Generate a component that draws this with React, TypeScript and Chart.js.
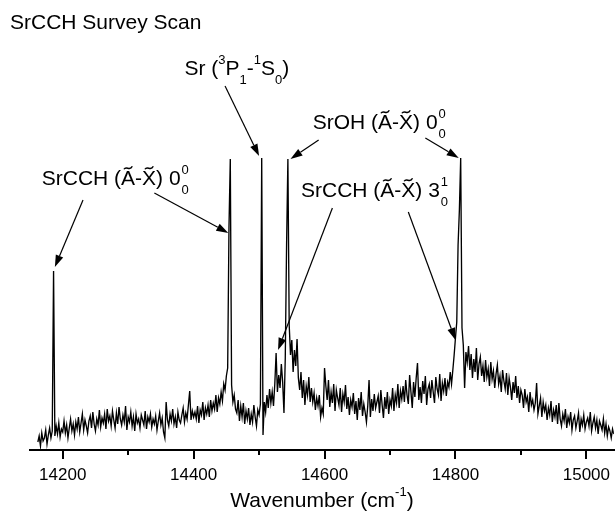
import React, { useEffect, useRef } from "react";
import { Chart, registerables } from "chart.js";

Chart.register(...registerables);

// ---- data ----
const scanStart = 14162; // cm-1, first sample
const scanStep = 2; // cm-1 between samples
const intensity = [
  8, 14, 4, 17, 9, 12, 20, 6, 15, 22,
  12, 19, 179, 14, 24, 16, 27, 13, 21, 18,
  29, 17, 25, 12, 22, 31, 19, 26, 15, 28,
  21, 33, 18, 27, 36, 20, 30, 24, 17, 29,
  34, 22, 38, 26, 19, 31, 25, 40, 23, 32,
  27, 36, 21, 41, 29, 34, 24, 39, 30, 22,
  37, 26, 43, 31, 25, 35, 28, 44, 20, 33,
  28, 38, 24, 33, 19, 36, 27, 31, 22, 35,
  30, 25, 39, 21, 33, 28, 36, 23, 31, 26,
  34, 20, 29, 37, 25, 32, 18, 12, 48, 30,
  24, 36, 29, 41, 26, 33, 22, 38, 30, 27,
  35, 42, 28, 37, 31, 45, 59, 30, 39, 33,
  38, 31, 44, 27, 40, 35, 48, 30, 42, 36,
  45, 33, 50, 39, 47, 41, 55, 38, 52, 46,
  58, 49, 66, 60, 74, 82, 223, 291, 65, 48,
  55, 41, 37, 50, 29, 44, 33, 47, 26, 39,
  31, 42, 25, 36, 28, 45, 33, 24, 40, 35,
  46, 292, 15, 48, 38, 55, 42, 61, 47, 58,
  44, 66, 97, 58, 75, 62, 86, 68, 37, 92,
  205, 291, 125, 95, 110, 78, 100, 84, 111, 72,
  60, 78, 52, 70, 45, 64, 55, 73, 48, 62,
  48, 57, 40, 52, 44, 55, 33, 42, 36, 82,
  64, 50, 70, 43, 58, 47, 66, 39, 60, 52,
  45, 62, 38, 56, 48, 65, 41, 53, 35, 50,
  43, 57, 36, 49, 30, 52, 40, 58, 34, 46,
  38, 28, 44, 70, 33, 51, 39, 56, 42, 48,
  54, 37, 60, 45, 32, 53, 41, 58, 36, 50,
  44, 62, 39, 55, 47, 66, 42, 59, 51, 64,
  48, 70, 55, 46, 75, 58, 42, 68, 53, 72,
  87, 50, 63, 47, 69, 56, 74, 45, 61, 66,
  52, 70, 58, 47, 73, 61, 55, 76, 49, 67,
  59, 72, 54, 68, 63, 78, 66, 80, 95, 112,
  128, 205, 240, 292, 122, 105, 62, 98, 88, 104,
  80, 96, 72, 91, 78, 102, 70, 86, 93, 74,
  84, 68, 90, 73, 81, 64, 88, 71, 79, 62,
  76, 85, 66, 74, 58, 80, 69, 61, 77, 55,
  72, 63, 50, 68, 57, 74, 52, 64, 47, 60,
  55, 42, 61, 48, 53, 38, 58, 45, 50, 40,
  47, 67, 36, 44, 52, 33, 48, 39, 45, 30,
  42, 35, 49, 28, 40, 33, 45, 26, 47, 31,
  24, 36, 29, 41, 22, 33, 27, 38, 20, 30,
  34, 22, 29, 37, 18, 31, 25, 35, 21, 28,
  32, 24, 38, 19, 27, 33, 22, 30, 16, 29,
  25, 20, 31, 17, 26, 14, 23, 19, 12, 21, 16,
];

const majorTicks = [14200, 14400, 14600, 14800, 15000];
const minorTicks = [14300, 14500, 14700, 14900];
const xMin = 14150;
const xMax = 15042;
const yMin = 0;
const yMax = 420;

const chartTitle = "SrCCH Survey Scan";

type Seg = { k: "n" | "sup" | "sub" | "ss" | "tilde"; t?: string; sup?: string; sub?: string };

const axisTitle: Seg[] = [
  { k: "n", t: "Wavenumber (cm" },
  { k: "sup", t: "-1" },
  { k: "n", t: ")" },
];

const peakLabels: Seg[][] = [
  [
    { k: "n", t: "SrCCH (" }, { k: "tilde", t: "A" }, { k: "n", t: "-" }, { k: "tilde", t: "X" },
    { k: "n", t: ") 0" }, { k: "ss", sup: "0", sub: "0" },
  ],
  [
    { k: "n", t: "Sr (" }, { k: "sup", t: "3" }, { k: "n", t: "P" }, { k: "sub", t: "1" },
    { k: "n", t: "-" }, { k: "sup", t: "1" }, { k: "n", t: "S" }, { k: "sub", t: "0" }, { k: "n", t: ")" },
  ],
  [
    { k: "n", t: "SrOH (" }, { k: "tilde", t: "A" }, { k: "n", t: "-" }, { k: "tilde", t: "X" },
    { k: "n", t: ") 0" }, { k: "ss", sup: "0", sub: "0" },
  ],
  [
    { k: "n", t: "SrCCH (" }, { k: "tilde", t: "A" }, { k: "n", t: "-" }, { k: "tilde", t: "X" },
    { k: "n", t: ") 3" }, { k: "ss", sup: "1", sub: "0" },
  ],
];
// label anchors (wavenumber, intensity) – left end of text baseline
const labelAnchors: [number, number][] = [
  [14168, 265],
  [14386, 375],
  [14582, 321],
  [14564, 253],
];
// arrows: tail (wn, I) -> head (wn, I)
const arrows: [number, number, number, number][] = [
  [14231, 250, 14188, 183],
  [14340, 257, 14453, 217],
  [14448, 364, 14500, 294],
  [14591, 310, 14548, 291],
  [14754, 312, 14805, 292],
  [14612, 242, 14529, 100],
  [14728, 238, 14800, 110],
];

const FONT = '"Liberation Sans", Arial, Helvetica, sans-serif';

function drawRich(ctx: CanvasRenderingContext2D, segs: Seg[], x: number, y: number, size: number, draw = true): number {
  const main = `${size}px ${FONT}`;
  const small = `${Math.round(size * 0.6)}px ${FONT}`;
  let cx = x;
  for (const s of segs) {
    if (s.k === "n") {
      ctx.font = main;
      if (draw) ctx.fillText(s.t!, cx, y);
      cx += ctx.measureText(s.t!).width;
    } else if (s.k === "sup") {
      ctx.font = small;
      if (draw) ctx.fillText(s.t!, cx, y - size * 0.52);
      cx += ctx.measureText(s.t!).width;
    } else if (s.k === "sub") {
      ctx.font = small;
      if (draw) ctx.fillText(s.t!, cx, y + size * 0.42);
      cx += ctx.measureText(s.t!).width;
    } else if (s.k === "ss") {
      ctx.font = small;
      if (draw) {
        ctx.fillText(s.sup!, cx + 1, y - size * 0.52);
        ctx.fillText(s.sub!, cx + 1, y + size * 0.42);
      }
      cx += 1 + Math.max(ctx.measureText(s.sup!).width, ctx.measureText(s.sub!).width);
    } else if (s.k === "tilde") {
      ctx.font = main;
      const w = ctx.measureText(s.t!).width;
      if (draw) {
        ctx.fillText(s.t!, cx, y);
        const tw = size * 0.4;
        const th = size * 0.07;
        const x0 = cx + w / 2 - tw / 2;
        const ty = y - size * 0.82;
        ctx.save();
        ctx.lineWidth = size * 0.065;
        ctx.strokeStyle = "#000";
        ctx.beginPath();
        ctx.moveTo(x0, ty + th);
        ctx.bezierCurveTo(x0 + tw * 0.3, ty - th * 1.8, x0 + tw * 0.7, ty + th * 2.8, x0 + tw, ty - th);
        ctx.stroke();
        ctx.restore();
      }
      cx += w;
    }
  }
  return cx - x;
}

function drawArrow(ctx: CanvasRenderingContext2D, x1: number, y1: number, x2: number, y2: number) {
  const ang = Math.atan2(y2 - y1, x2 - x1);
  const hl = 12;
  const hw = 4;
  const bx = x2 - hl * Math.cos(ang);
  const by = y2 - hl * Math.sin(ang);
  ctx.beginPath();
  ctx.moveTo(x1, y1);
  ctx.lineTo(bx, by);
  ctx.stroke();
  ctx.beginPath();
  ctx.moveTo(x2, y2);
  ctx.lineTo(bx + hw * Math.sin(ang), by - hw * Math.cos(ang));
  ctx.lineTo(bx - hw * Math.sin(ang), by + hw * Math.cos(ang));
  ctx.closePath();
  ctx.fill();
}

const decorPlugin = {
  id: "decor",
  afterDraw(chart: any) {
    const ctx: CanvasRenderingContext2D = chart.ctx;
    const xs = chart.scales.x;
    const ys = chart.scales.y;
    const area = chart.chartArea;
    ctx.save();
    ctx.fillStyle = "#000";
    ctx.strokeStyle = "#000";
    // minor ticks
    ctx.lineWidth = 2;
    for (const v of minorTicks) {
      const px = Math.round(xs.getPixelForValue(v));
      ctx.beginPath();
      ctx.moveTo(px, area.bottom);
      ctx.lineTo(px, area.bottom + 5);
      ctx.stroke();
    }
    ctx.textAlign = "left";
    ctx.textBaseline = "alphabetic";
    // chart title
    ctx.font = `21px ${FONT}`;
    ctx.fillText(chartTitle, 10, 29);
    // axis title
    const w = drawRich(ctx, axisTitle, 0, 0, 21, false);
    const cxm = (area.left + area.right) / 2;
    drawRich(ctx, axisTitle, cxm - w / 2, 507, 21);
    // peak labels
    peakLabels.forEach((segs, i) => {
      const [wn, iv] = labelAnchors[i];
      drawRich(ctx, segs, xs.getPixelForValue(wn), ys.getPixelForValue(iv), 21);
    });
    // arrows
    ctx.lineWidth = 1.2;
    for (const [a, b, c, d] of arrows) {
      drawArrow(ctx, xs.getPixelForValue(a), ys.getPixelForValue(b), xs.getPixelForValue(c), ys.getPixelForValue(d));
    }
    ctx.restore();
  },
};

export default function App() {
  const ref = useRef<HTMLCanvasElement | null>(null);
  useEffect(() => {
    if (!ref.current) return;
    const points = intensity.map((v, i) => ({ x: scanStart + i * scanStep, y: v }));
    const chart = new Chart(ref.current, {
      type: "line",
      data: {
        datasets: [
          {
            data: points,
            borderColor: "#000",
            borderWidth: 1.35,
            pointRadius: 0,
            tension: 0,
            fill: false,
          },
        ],
      },
      options: {
        animation: false,
        responsive: false,
        devicePixelRatio: 1,
        layout: { padding: { left: 30, right: 0, top: 30, bottom: 0 } },
        plugins: { legend: { display: false }, tooltip: { enabled: false }, title: { display: false } },
        scales: {
          x: {
            type: "linear",
            min: xMin,
            max: xMax,
            afterBuildTicks: (axis: any) => {
              axis.ticks = majorTicks.map((v) => ({ value: v }));
            },
            afterFit: (axis: any) => {
              axis.height = 70;
            },
            ticks: {
              color: "#000",
              font: { family: FONT, size: 17 },
              padding: 6,
              maxRotation: 0,
              autoSkip: false,
              callback: (v: any) => String(v),
            },
            grid: {
              display: true,
              drawOnChartArea: false,
              drawTicks: true,
              tickLength: 9,
              tickWidth: 2,
              tickColor: "#000",
              color: "#000",
              lineWidth: 2,
            },
            border: { display: true, color: "#000", width: 2 },
          },
          y: { display: false, min: yMin, max: yMax },
        },
      },
      plugins: [decorPlugin],
    } as any);
    return () => chart.destroy();
  }, []);
  return (
    <div style={{ position: "fixed", left: 0, top: 0, width: 616, height: 520, background: "#fff" }}>
      <canvas ref={ref} width={616} height={520} style={{ display: "block", width: 616, height: 520 }} />
    </div>
  );
}
